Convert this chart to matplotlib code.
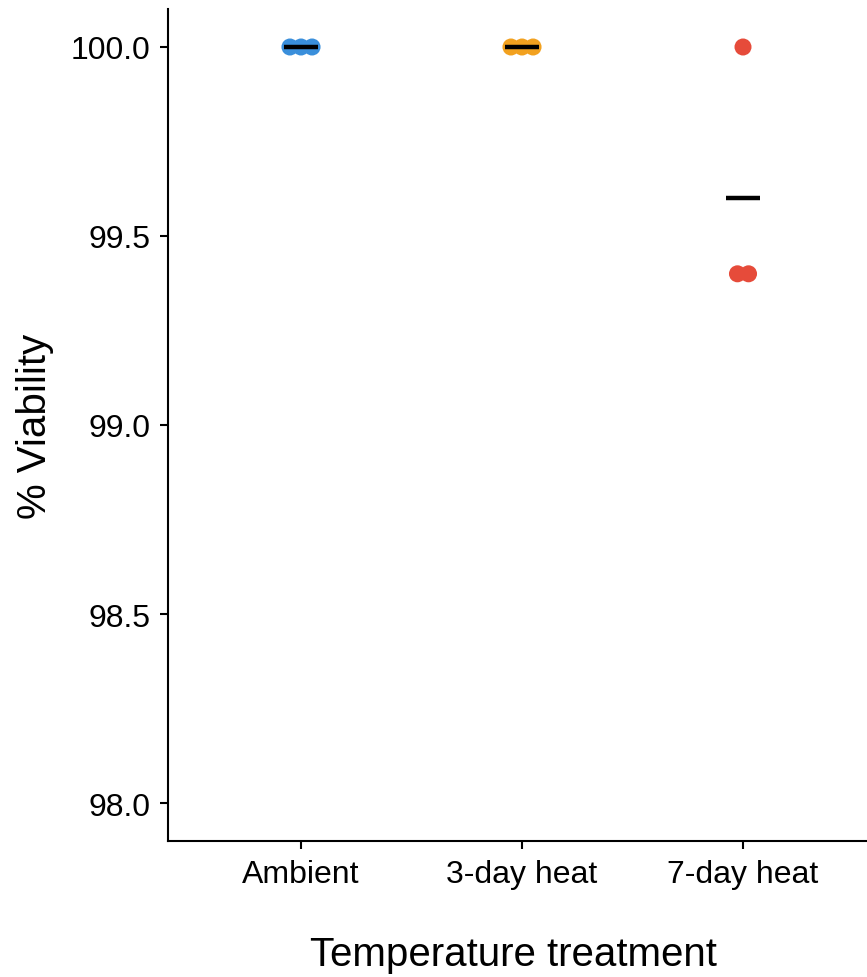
import numpy as np
import matplotlib
matplotlib.use("Agg")
import matplotlib.pyplot as plt

plt.rcParams['font.family'] = ['Liberation Sans', 'DejaVu Sans']

categories = ["Ambient", "3-day heat", "7-day heat"]
viability = [
    [100.0, 100.0, 100.0],
    [100.0, 100.0, 100.0],
    [100.0, 99.4, 99.4],
]
colors = ["#3A8FDB", "#F2A11F", "#E64B3A"]
yticks = [98.0, 98.5, 99.0, 99.5, 100.0]

fig = plt.figure(figsize=(8.67, 9.78), dpi=100)
ax_left, ax_right = 168.4, 875.6
ax = fig.add_axes([ax_left / 867, 1 - 841.8 / 978, (ax_right - ax_left) / 867, (841.8 - 10.2) / 978])

step = 0.05
for i, (vals, col) in enumerate(zip(viability, colors)):
    x0 = i + 1
    vals = np.array(vals)
    for u in np.unique(vals):
        n = int(np.sum(vals == u))
        offs = (np.arange(n) - (n - 1) / 2) * step
        ax.scatter(x0 + offs, [u] * n, s=150, color=col, edgecolors='none', zorder=2)
    m = vals.mean()
    ax.hlines(m, x0 - 0.078, x0 + 0.078, color='black', linewidth=3.2, zorder=3)

ax.set_xlim(0.4, 3.6)
ax.set_ylim(97.9, 100.1)
ax.set_xticks([1, 2, 3])
ax.set_xticklabels(categories)
ax.set_yticks(yticks)
ax.set_yticklabels([f"{t:.1f}" for t in yticks])
for s in ['top', 'right']:
    ax.spines[s].set_visible(False)
for s in ['left', 'bottom']:
    ax.spines[s].set_linewidth(1.5)
ax.tick_params(axis='both', length=6, width=1.5, labelsize=23, colors='black')
ax.tick_params(axis='y', pad=7)
ax.tick_params(axis='x', pad=7)
ax.set_xlabel("Temperature treatment", fontsize=29)
ax.set_ylabel("% Viability", fontsize=29)
ax.xaxis.set_label_coords((513.5 - ax_left) / (ax_right - ax_left), -(966 - 841.8) / (841.8 - 10.2))
ax.xaxis.label.set_va('baseline')
ax.yaxis.set_label_coords(-(168.4 - 16) / (ax_right - ax_left), 0.5)
ax.yaxis.label.set_va('top')

fig.savefig("out.png", dpi=100)
